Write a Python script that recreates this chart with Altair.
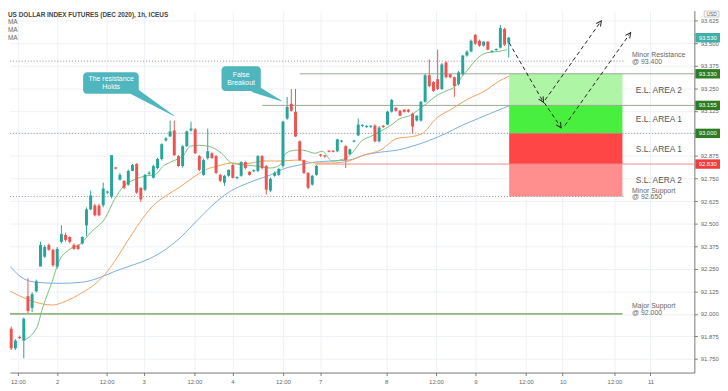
import altair as alt
import pandas as pd

# ---------------- data ----------------
bars = list(range(120))
opens = [91.918, 91.809, 91.872, 91.852, 92.098, 92.033, 92.125, 92.262, 92.317, 92.382,
         92.355, 92.262, 92.399, 92.437, 92.426, 92.382, 92.380, 92.390, 92.490, 92.579,
         92.601, 92.600, 92.601, 92.672, 92.650, 92.811, 92.743, 92.737, 92.716, 92.792,
         92.830, 92.699, 92.688, 92.776, 92.754, 92.808, 92.858, 92.961, 92.983, 93.016,
         92.874, 92.819, 92.929, 93.016, 93.022, 92.874, 92.770, 92.863, 92.890, 92.874,
         92.770, 92.727, 92.765, 92.825, 92.752, 92.765, 92.841, 92.787, 92.790, 92.792,
         92.874, 92.819, 92.683, 92.765, 92.770, 92.819, 93.082, 93.164, 93.120, 92.956,
         92.852, 92.781, 92.716, 92.770, 92.883, 92.878, 92.904, 92.904, 92.901, 92.954,
         92.929, 92.885, 92.954, 92.989, 93.041, 93.036, 93.036, 93.043, 92.956, 93.042,
         93.049, 93.120, 93.142, 93.125, 93.131, 93.131, 93.109, 93.071, 93.071, 93.175,
         93.322, 93.284, 93.300, 93.246, 93.393, 93.328, 93.311, 93.273, 93.328, 93.431,
         93.453, 93.546, 93.513, 93.486, 93.508, 93.451, 93.462, 93.475, 93.579, 93.502]
highs = [91.930, 91.860, 91.880, 91.980, 92.197, 92.120, 92.190, 92.400, 92.380, 92.390,
         92.360, 92.370, 92.491, 92.450, 92.430, 92.390, 92.385, 92.430, 92.590, 92.683,
         92.610, 92.610, 92.727, 92.682, 92.880, 92.815, 92.780, 92.740, 92.800, 92.830,
         92.835, 92.700, 92.775, 92.790, 92.825, 92.865, 92.945, 92.980, 93.071, 93.071,
         92.880, 92.935, 93.015, 93.065, 93.030, 92.880, 92.860, 93.027, 92.895, 92.880,
         92.775, 92.770, 92.800, 92.830, 92.762, 92.845, 92.845, 92.790, 92.800, 92.880,
         92.880, 92.825, 92.755, 92.790, 92.810, 93.070, 93.202, 93.246, 93.246, 92.960,
         92.855, 92.785, 92.770, 92.825, 92.886, 92.880, 92.907, 92.907, 92.970, 92.964,
         92.935, 92.915, 92.964, 93.082, 93.050, 93.045, 93.045, 93.050, 93.040, 93.046,
         93.125, 93.190, 93.145, 93.130, 93.135, 93.135, 93.115, 93.100, 93.180, 93.330,
         93.410, 93.290, 93.464, 93.390, 93.400, 93.330, 93.315, 93.345, 93.435, 93.460,
         93.520, 93.550, 93.520, 93.510, 93.510, 93.460, 93.470, 93.601, 93.585, 93.535]
lows = [91.800, 91.800, 91.860, 91.754, 92.000, 92.010, 92.120, 92.280, 92.310, 92.350,
        92.260, 92.250, 92.390, 92.400, 92.390, 92.355, 92.355, 92.385, 92.430, 92.575,
        92.540, 92.540, 92.590, 92.665, 92.640, 92.800, 92.740, 92.690, 92.710, 92.790,
        92.665, 92.620, 92.680, 92.770, 92.750, 92.800, 92.850, 92.955, 92.980, 92.875,
        92.815, 92.810, 92.925, 93.010, 92.885, 92.790, 92.765, 92.855, 92.860, 92.775,
        92.730, 92.710, 92.760, 92.750, 92.745, 92.760, 92.800, 92.765, 92.785, 92.785,
        92.800, 92.661, 92.675, 92.760, 92.765, 92.810, 93.075, 93.120, 92.980, 92.845,
        92.775, 92.690, 92.710, 92.765, 92.870, 92.865, 92.895, 92.895, 92.895, 92.950,
        92.808, 92.880, 92.950, 92.985, 93.035, 93.030, 93.030, 92.950, 92.950, 93.030,
        93.045, 93.115, 93.120, 93.095, 93.115, 93.115, 93.000, 93.065, 93.065, 93.170,
        93.255, 93.230, 93.240, 93.240, 93.305, 93.305, 93.202, 93.265, 93.320, 93.425,
        93.450, 93.490, 93.480, 93.480, 93.460, 93.445, 93.455, 93.470, 93.485, 93.420]
closes = [91.809, 91.852, 91.866, 91.973, 92.016, 92.109, 92.180, 92.382, 92.371, 92.355,
          92.270, 92.360, 92.442, 92.410, 92.399, 92.360, 92.360, 92.426, 92.579, 92.656,
          92.546, 92.546, 92.694, 92.678, 92.879, 92.805, 92.770, 92.699, 92.792, 92.825,
          92.672, 92.634, 92.770, 92.782, 92.819, 92.858, 92.940, 92.972, 93.011, 92.879,
          92.819, 92.929, 93.011, 93.027, 92.890, 92.798, 92.852, 92.901, 92.863, 92.781,
          92.737, 92.765, 92.798, 92.754, 92.758, 92.841, 92.808, 92.770, 92.796, 92.874,
          92.808, 92.688, 92.748, 92.781, 92.803, 93.065, 93.147, 93.125, 92.983, 92.852,
          92.781, 92.699, 92.765, 92.819, 92.877, 92.872, 92.898, 92.898, 92.967, 92.960,
          92.852, 92.912, 92.960, 93.049, 93.047, 93.042, 93.042, 92.956, 93.032, 93.036,
          93.120, 93.185, 93.125, 93.098, 93.120, 93.120, 93.038, 93.098, 93.175, 93.322,
          93.262, 93.235, 93.246, 93.382, 93.311, 93.311, 93.262, 93.338, 93.431, 93.453,
          93.513, 93.497, 93.486, 93.508, 93.464, 93.457, 93.468, 93.584, 93.491, 93.530]

ma_fast_bar = [2.8, 6.1, 7.5, 9.8, 11.4, 13.8, 16.6, 19.1, 22.6, 24.7, 27.0, 29.4, 32.4, 34.3, 36.4,
               38.7, 41.0, 42.9, 44.8, 47.1, 50.3, 52.7, 55.7, 58.7, 62.0, 64.3, 65.7, 68.1, 69.7,
               72.7, 74.4, 76.7, 78.6, 80.7, 82.1, 83.7, 86.0, 88.3, 90.7, 93.0, 95.3, 97.7, 99.3,
               101.6, 104.0, 106.3, 107.7, 109.3, 111.7, 114.0, 116.3, 118.6]
ma_fast_val = [91.852, 91.923, 92.033, 92.180, 92.290, 92.355, 92.388, 92.453, 92.535, 92.634,
               92.710, 92.743, 92.765, 92.770, 92.819, 92.847, 92.874, 92.929, 92.934, 92.929,
               92.890, 92.836, 92.825, 92.819, 92.808, 92.825, 92.890, 92.907, 92.907, 92.890,
               92.901, 92.847, 92.852, 92.874, 92.907, 92.956, 92.983, 93.011, 93.043, 93.082,
               93.098, 93.136, 93.164, 93.207, 93.235, 93.262, 93.311, 93.355, 93.420, 93.448,
               93.453, 93.464]
ma_mid_bar = [-0.2, 3.7, 7.5, 9.8, 13.1, 16.8, 20.0, 22.4, 24.7, 27.7, 30.8, 34.0, 37.1, 40.1,
              43.4, 46.4, 49.4, 52.7, 55.7, 60.4, 64.3, 68.1, 72.7, 76.7, 80.7, 84.4, 88.3, 92.3,
              96.0, 98.4, 101.6, 105.4, 109.3, 113.3, 116.3, 119.1]
ma_mid_val = [92.125, 92.082, 92.055, 92.049, 92.071, 92.115, 92.164, 92.219, 92.290, 92.399,
              92.508, 92.601, 92.656, 92.699, 92.754, 92.798, 92.819, 92.836, 92.830, 92.847,
              92.847, 92.852, 92.836, 92.836, 92.847, 92.880, 92.907, 92.972, 92.983, 93.000,
              93.082, 93.136, 93.191, 93.235, 93.284, 93.317]
ma_slow_bar = [-0.2, 2.8, 6.1, 11.4, 16.8, 20.7, 24.7, 29.4, 33.1, 37.1, 40.1, 43.4, 46.4, 49.4,
               52.7, 55.7, 58.7, 62.0, 65.7, 69.0, 72.7, 76.7, 80.7, 84.4, 88.3, 92.3, 96.0,
               100.0, 104.0, 107.7, 111.7, 115.6, 119.1]
ma_slow_val = [92.262, 92.197, 92.175, 92.169, 92.175, 92.197, 92.235, 92.273, 92.306, 92.360,
               92.415, 92.492, 92.563, 92.628, 92.683, 92.716, 92.743, 92.770, 92.808, 92.825,
               92.841, 92.847, 92.852, 92.880, 92.896, 92.907, 92.929, 92.961, 93.000, 93.043,
               93.082, 93.120, 93.153]

tick_bars = [1.6, 11.0, 22.8, 31.7, 43.8, 52.9, 65.0, 73.9, 89.7, 101.6, 111.0, 123.1, 131.9, 144.3, 152.9]
tick_labels = ["12:00", "2", "12:00", "3", "12:00", "4", "12:00", "7", "8", "12:00", "9",
               "12:00", "10", "12:00", "11"]
price_ticks = [91.75, 91.875, 92.0, 92.125, 92.25, 92.375, 92.5, 92.625, 92.75, 92.875,
               93.0, 93.125, 93.25, 93.375, 93.5, 93.625]

# levels
dotted_price = [93.400, 93.000, 92.650]
dotted_start = [-0.3, -0.3, -0.3]
dotted_end = [146.6, 163.4, 146.6]
solid_price = [93.330, 93.155, 92.830, 92.000]
solid_start = [69.0, 60.0, 72.7, -0.3]
solid_end = [163.4, 163.4, 163.4, 146.2]
solid_color = ["#9aa88f", "#9aa88f", "#f08a8a", "#93b37f"]
solid_width = [1, 1, 1, 1.6]

# zones
zone_names = ["E.L. AREA 2", "E.L. AREA 1", "S.L. AREA 1", "S.L. AERA 2"]
zone_lo = [93.155, 93.000, 92.830, 92.650]
zone_hi = [93.330, 93.155, 93.000, 92.830]
zone_fill = ["#aef5a6", "#48ef3e", "#ff4646", "#ff8e8e"]
zone_start, zone_end = 119.1, 146.2

level_texts = ["Minor Resistance", "@ 93.400", "Minor Support", "@ 92.650", "Major Support", "@ 92.000"]
level_text_y = [93.436, 93.396, 92.683, 92.645, 92.044, 92.005]

tag_price = [93.530, 93.330, 93.155, 93.000, 92.830]
tag_color = ["#3fb1a6", "#2f7d22", "#2f7d22", "#2f7d22", "#f23b3b"]

# callouts
call_id = ["a", "b"]
call_x1 = [17.2, 50.3]
call_x2 = [30.5, 59.7]
call_lo = [93.219, 93.235]
call_hi = [93.339, 93.372]
call_lines = [["The resistance", "Holds"], ["False", "Breakout"]]
call_cx = [23.9, 55.0]
call_cy = [[93.301, 93.257], [93.325, 93.281]]
tail_bar = [[29.2, 38.9], [58.3, 64.6]]
tail_price = [[93.236, 93.098], [93.246, 93.180]]

# projection arrows
proj_seg = ["A", "A", "B", "B", "C", "C", "D", "D"]
proj_bar = [119.1, 127.0, 127.7, 140.8, 127.5, 131.2, 132.4, 147.8]
proj_price = [93.502, 93.185, 93.185, 93.612, 93.170, 93.043, 93.043, 93.546]
head_bar = [127.0, 140.8, 131.2, 147.8]
head_price = [93.185, 93.612, 93.043, 93.546]
head_angle = [149.6, 35.7, 146.3, 35.7]

header_lines = ["US DOLLAR INDEX FUTURES (DEC 2020), 1h, ICEUS", "MA", "MA", "MA"]

# ---------------- chart ----------------
W, H = 694, 367
FONT = "Liberation Sans"
xs = alt.Scale(domain=[-0.3, 163.4], nice=False, zero=False, padding=0)
ys = alt.Scale(domain=[91.675, 93.680], nice=False, zero=False, padding=0)

labels_js = "[" + ",".join("'" + t + "'" for t in tick_labels) + "]"
vals_js = "[" + ",".join(str(v) for v in tick_bars) + "]"
x_axis = alt.Axis(values=tick_bars, labelExpr=labels_js + "[indexof(" + vals_js + ", datum.value)]",
                  grid=True, gridColor="#eef1f6", domainColor="#777", tickColor="#777", tickSize=3,
                  labelFontSize=6, labelColor="#666", labelFont=FONT, labelPadding=3, title=None)
y_axis = alt.Axis(orient="right", values=price_ticks,
                  labelExpr="abs(datum.value - 93) < 0.001 ? '' : format(datum.value, '.3f')",
                  grid=True, gridColor="#eef1f6",
                  domainColor="#777", tickColor="#777", tickSize=3, labelFontSize=6, labelColor="#666",
                  labelFont=FONT, labelPadding=3, title=None)


def bx(f):
    return alt.X(f, scale=xs, axis=x_axis)


def by(f):
    return alt.Y(f, scale=ys, axis=y_axis)


cdf = pd.DataFrame({"bar": bars, "open": opens, "high": highs, "low": lows, "close": closes})
cdf["dir"] = ["up" if c >= o else "down" for o, c in zip(opens, closes)]
col = alt.Color("dir:N", scale=alt.Scale(domain=["up", "down"], range=["#26a69a", "#ef5350"]), legend=None)

wick = alt.Chart(cdf).mark_rule(strokeWidth=1).encode(
    x=bx("bar:Q"), y=by("low:Q"), y2="high:Q", color=col)
body = alt.Chart(cdf).mark_bar(size=3).encode(
    x=bx("bar:Q"), y=by("open:Q"), y2="close:Q", color=col)

ma_layers = []
for b, v, c in [(ma_slow_bar, ma_slow_val, "#79aee0"), (ma_mid_bar, ma_mid_val, "#f5a05a"),
                (ma_fast_bar, ma_fast_val, "#76c27a")]:
    mdf = pd.DataFrame({"bar": b, "low": v})
    ma_layers.append(alt.Chart(mdf).mark_line(interpolate="monotone", strokeWidth=1, color=c).encode(
        x=bx("bar:Q"), y=by("low:Q")))

zdf = pd.DataFrame({"name": zone_names, "lo": zone_lo, "hi": zone_hi, "fill": zone_fill,
                    "x1": [zone_start] * 4, "x2": [zone_end] * 4,
                    "mid": [(a + b) / 2 for a, b in zip(zone_lo, zone_hi)], "tx": [149.4] * 4})
zones = alt.Chart(zdf).mark_rect().encode(
    x=bx("x1:Q"), x2="x2:Q", y=by("lo:Q"), y2="hi:Q", fill=alt.Fill("fill:N", scale=None))
zone_txt = alt.Chart(zdf).mark_text(align="left", baseline="middle", fontSize=8.5, font=FONT,
                                    color="#555").encode(
    x=bx("tx:Q"), y=by("mid:Q"), text="name:N")

ddf = pd.DataFrame({"p": dotted_price, "x1": dotted_start, "x2": dotted_end})
dotted = alt.Chart(ddf).mark_rule(strokeDash=[1, 2], color="#8a8f99", strokeWidth=1).encode(
    x=bx("x1:Q"), x2="x2:Q", y=by("p:Q"))
sdf = pd.DataFrame({"p": solid_price, "x1": solid_start, "x2": solid_end, "c": solid_color, "w": solid_width})
solid = alt.Chart(sdf).mark_rule().encode(
    x=bx("x1:Q"), x2="x2:Q", y=by("p:Q"), color=alt.Color("c:N", scale=None),
    strokeWidth=alt.StrokeWidth("w:Q", scale=None))

ltdf = pd.DataFrame({"t": level_texts, "y": level_text_y, "x": [148.5] * len(level_texts)})
level_txt = alt.Chart(ltdf).mark_text(align="left", baseline="middle", fontSize=7, font=FONT,
                                      color="#666").encode(
    x=bx("x:Q"), y=by("y:Q"), text="t:N")

tdf = pd.DataFrame({"p": tag_price, "c": tag_color, "lo": [p - 0.026 for p in tag_price],
                    "hi": [p + 0.026 for p in tag_price], "t": ["%.3f" % p for p in tag_price]})
tag_rect = alt.Chart(tdf).mark_rect().encode(
    x=alt.value(W + 1), x2=alt.value(W + 26), y=by("lo:Q"), y2="hi:Q",
    fill=alt.Fill("c:N", scale=None))
tag_txt = alt.Chart(tdf).mark_text(align="center", baseline="middle", fontSize=6, font=FONT,
                                   color="white").encode(
    x=alt.value(W + 13.5), y=by("p:Q"), text="t:N")

cdf2 = pd.DataFrame({"id": call_id, "x1": call_x1, "x2": call_x2, "lo": call_lo, "hi": call_hi})
call_box = alt.Chart(cdf2).mark_rect(cornerRadius=4, color="#4fb6be").encode(
    x=bx("x1:Q"), x2="x2:Q", y=by("lo:Q"), y2="hi:Q")
rows = []
for i in range(len(call_id)):
    for line, yy in zip(call_lines[i], call_cy[i]):
        rows.append({"t": line, "x": call_cx[i], "y": yy})
call_txt = alt.Chart(pd.DataFrame(rows)).mark_text(align="center", baseline="middle", fontSize=7,
                                                   font=FONT, color="white").encode(
    x=bx("x:Q"), y=by("y:Q"), text="t:N")
trows = []
for i in range(len(call_id)):
    for k in range(2):
        trows.append({"id": call_id[i], "x": tail_bar[i][k], "y": tail_price[i][k], "s": [8, 0.6][k], "o": k})
tails = alt.Chart(pd.DataFrame(trows)).mark_trail(color="#4fb6be").encode(
    x=bx("x:Q"), y=by("y:Q"), size=alt.Size("s:Q", scale=None), detail="id:N", order="o:Q")

pdf = pd.DataFrame({"seg": proj_seg, "x": proj_bar, "y": proj_price, "o": list(range(len(proj_seg)))})
proj = alt.Chart(pdf).mark_line(strokeDash=[4, 3], color="#222", strokeWidth=1).encode(
    x=bx("x:Q"), y=by("y:Q"), detail="seg:N", order="o:Q")
hdf = pd.DataFrame({"x": head_bar, "y": head_price, "a": head_angle})
heads = alt.Chart(hdf).mark_point(shape="M -1 1 L 0 -1 L 1 1", filled=False, color="#222", size=28,
                                  strokeWidth=1, opacity=1).encode(
    x=bx("x:Q"), y=by("y:Q"), angle=alt.Angle("a:Q", scale=None))

header_layers = []
for i, t in enumerate(header_lines):
    header_layers.append(
        alt.Chart(pd.DataFrame({"t": [t]})).mark_text(
            align="left", baseline="middle", fontSize=6.5, font=FONT,
            fontWeight="bold" if i == 0 else "normal", color="#444" if i == 0 else "#666"
        ).encode(x=alt.value(-2), y=alt.value(4 + 7.8 * i), text="t:N"))

usd_df = pd.DataFrame({"t": ["USD"]})
usd_box = alt.Chart(usd_df).mark_rect(fill="white", stroke="#bbb", strokeWidth=0.8).encode(
    x=alt.value(W + 10), x2=alt.value(W + 25), y=alt.value(0.5), y2=alt.value(6.5))
usd_txt = alt.Chart(usd_df).mark_text(align="center", baseline="middle", fontSize=5, font=FONT,
                                      color="#555").encode(x=alt.value(W + 17.5), y=alt.value(3.5), text="t:N")

chart = alt.layer(
    wick, zones, dotted, solid, *ma_layers, body, zone_txt, level_txt, call_box, tails, call_txt,
    proj, heads, tag_rect, tag_txt, *header_layers, usd_box, usd_txt
).properties(width=W, height=H, padding=0, background="white").configure_view(stroke=None)

chart.save("out.html", embed_options={"renderer": "svg", "actions": False})
